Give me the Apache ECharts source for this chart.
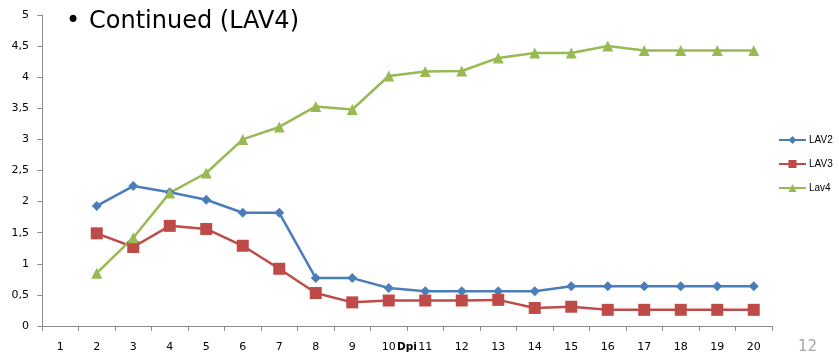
<!DOCTYPE html>
<html>
<head>
<meta charset="utf-8">
<script src="https://cdn.jsdelivr.net/npm/echarts@6/dist/echarts.min.js"></script>
<style>
  html, body { margin: 0; padding: 0; background: #fff; }
  #chart { width: 839px; height: 353px; }
</style>
</head>
<body>
<div id="chart"></div>
<script>
// Days post infection (x categories)
const categories = ['1','2','3','4','5','6','7','8','9','10','11','12','13','14','15','16','17','18','19','20'];
// Series values; day 1 has no measurement
const lav2 = [null, 1.93, 2.25, 2.15, 2.03, 1.82, 1.82, 0.77, 0.77, 0.61, 0.56, 0.56, 0.56, 0.56, 0.64, 0.64, 0.64, 0.64, 0.64, 0.64];
const lav3 = [null, 1.49, 1.27, 1.61, 1.56, 1.29, 0.92, 0.53, 0.38, 0.41, 0.41, 0.41, 0.42, 0.29, 0.31, 0.26, 0.26, 0.26, 0.26, 0.26];
const lav4 = [null, 0.85, 1.42, 2.14, 2.46, 3.00, 3.20, 3.53, 3.48, 4.02, 4.09, 4.10, 4.31, 4.39, 4.39, 4.50, 4.43, 4.43, 4.43, 4.43];
const seriesNames = ['LAV2', 'LAV3', 'Lav4'];

const chart = echarts.init(document.getElementById('chart'), null, { renderer: 'canvas' });
const font = 'DejaVu Sans, Verdana, sans-serif';

function line(name, data, color, symbol, size) {
  return {
    name, type: 'line', data,
    symbol, symbolSize: size,
    showSymbol: true,
    lineStyle: { color, width: 2.5 },
    itemStyle: { color },
    connectNulls: false,
    animation: false
  };
}

chart.setOption({
  animation: false,
  grid: { left: 42, right: 67, top: 15, bottom: 27, containLabel: false, outerBoundsMode: 'none' },
  legend: {
    orient: 'vertical',
    left: 773,
    top: 130,
    padding: 5,
    itemWidth: 27,
    itemHeight: 10,
    itemGap: 14,
    textStyle: { fontFamily: 'Liberation Sans, Arial, sans-serif', fontSize: 10, color: '#000', padding: [0, 0, 0, -2] },
    data: seriesNames
  },
  xAxis: {
    type: 'category',
    data: categories,
    boundaryGap: true,
    name: 'Dpi',
    nameLocation: 'middle',
    nameGap: 16,
    nameMoveOverlap: false,
    nameTextStyle: { fontFamily: font, fontSize: 10.5, fontWeight: 'bold', color: '#000' },
    axisLine: { lineStyle: { color: '#8c8c8c', width: 1 } },
    axisTick: { show: true, length: 5, alignWithLabel: false, lineStyle: { color: '#8c8c8c' } },
    axisLabel: { fontFamily: font, fontSize: 11, color: '#000', margin: 16 },
    splitLine: { show: false }
  },
  yAxis: {
    type: 'value',
    min: 0, max: 5, interval: 0.5,
    axisLine: { show: true, lineStyle: { color: '#8c8c8c', width: 1 } },
    axisTick: { show: true, length: 5, inside: false, lineStyle: { color: '#8c8c8c' } },
    axisLabel: {
      fontFamily: font, fontSize: 11, color: '#000', margin: 13,
      formatter: v => String(v).replace('.', ',')
    },
    splitLine: { show: false }
  },
  graphic: [
    {
      type: 'text', left: 66, top: 10,
      style: { text: '•', font: '24px ' + font, fill: '#000' }
    },
    {
      type: 'text', left: 89, top: 10,
      style: { text: 'Continued (LAV4)', font: '24px ' + font, fill: '#000' }
    },
    {
      type: 'text', left: 798, top: 340,
      style: { text: '12', font: '15px ' + font, fill: '#a6a6a6' }
    }
  ],
  series: [
    line('LAV2', lav2, '#4a7ebb', 'diamond', 10),
    line('LAV3', lav3, '#be4b48', 'rect', 12),
    line('Lav4', lav4, '#98b954', 'triangle', 11)
  ]
});
</script>
</body>
</html>
